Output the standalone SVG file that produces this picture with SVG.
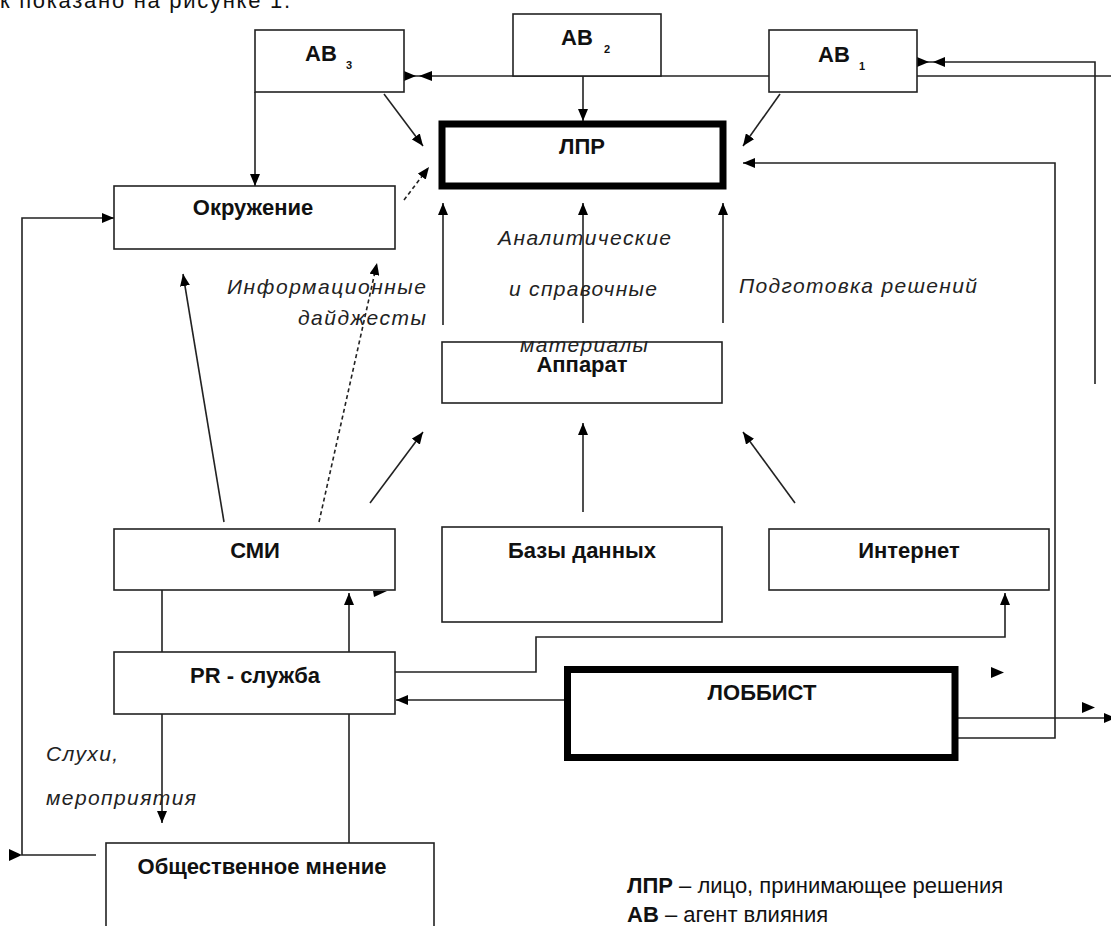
<svg xmlns="http://www.w3.org/2000/svg" width="1111" height="926" viewBox="0 0 1111 926">
<defs>
<style>
.box{fill:#fff;stroke:#222;stroke-width:1.6}
.thick{fill:#fff;stroke:#000;stroke-width:7}
.ln{fill:none;stroke:#222;stroke-width:1.6}
.dash{fill:none;stroke:#222;stroke-width:1.6;stroke-dasharray:4 3}
.tri{fill:#000}
.b{font-family:"Liberation Sans",Arial,sans-serif;font-weight:bold;font-size:22px;fill:#111}
.sub{font-family:"Liberation Sans",Arial,sans-serif;font-weight:bold;font-size:11px;fill:#111}
.i{font-family:"Liberation Sans",Arial,sans-serif;font-style:italic;font-size:21px;fill:#222}
.r{font-family:"Liberation Sans",Arial,sans-serif;font-size:22px;fill:#111}
</style>
<marker id="ah" viewBox="0 0 12 10" refX="12" refY="5" markerWidth="12" markerHeight="10" orient="auto" markerUnits="userSpaceOnUse"><path d="M0,0 L12,5 L0,10 z" fill="#000"/></marker>
</defs>
<rect width="1111" height="926" fill="#fff"/>
<text class="r" x="0" y="8" font-size="27" textLength="290" lengthAdjust="spacing">к показано на рисунке 1.</text>

<g id="connectors">
<path class="ln" d="M583,76 V121" marker-end="url(#ah)"/>
<path class="ln" d="M769,76 H404"/>
<polygon class="tri" points="404,71 416,76 404,81"/>
<polygon class="tri" points="419,76 432,71 432,81"/>
<path class="ln" d="M917,76 H1111"/>
<path class="ln" d="M1095,384 V62 H917"/>
<polygon class="tri" points="917,57 929,62 917,67"/>
<polygon class="tri" points="933,62 945,57 945,67"/>
<path class="ln" d="M255,92 V186" marker-end="url(#ah)"/>
<path class="ln" d="M384,94 L423,146" marker-end="url(#ah)"/>
<path class="ln" d="M780,94 L743,146" marker-end="url(#ah)"/>
<path class="ln" d="M958,738 H1055 V163 H743" marker-end="url(#ah)"/>
<path class="ln" d="M958,718 H1116" marker-end="url(#ah)"/>
<polygon class="tri" points="991,667 1004,672.5 991,678"/>
<polygon class="tri" points="1082,702 1095,707.5 1082,713"/>
<path class="dash" d="M404,200 L429,167" marker-end="url(#ah)"/>
<path class="ln" d="M443,325 V203" marker-end="url(#ah)"/>
<path class="ln" d="M583,323 V203" marker-end="url(#ah)"/>
<path class="ln" d="M723,323 V203" marker-end="url(#ah)"/>
<path class="ln" d="M224,522 L183,274" marker-end="url(#ah)"/>
<path class="dash" d="M319,522 L377,263" marker-end="url(#ah)"/>
<path class="ln" d="M370,503 L423,432" marker-end="url(#ah)"/>
<path class="ln" d="M583,512 V423" marker-end="url(#ah)"/>
<path class="ln" d="M795,503 L743,432" marker-end="url(#ah)"/>
<path class="ln" d="M162,590 V652"/>
<path class="ln" d="M349,652 V593" marker-end="url(#ah)"/>
<polygon class="tri" points="373,591 387,591 374,597"/>
<path class="ln" d="M395,672 H536 V637 H1005 V593" marker-end="url(#ah)"/>
<path class="ln" d="M564,700 H396" marker-end="url(#ah)"/>
<path class="ln" d="M162,714 V823" marker-end="url(#ah)"/>
<path class="ln" d="M349,843 V714"/>
<path class="ln" d="M96,855 H22 V218 H114" marker-end="url(#ah)"/>
<polygon class="tri" points="9,849 22,855 9,861"/>
</g>

<g id="ab3"><rect class="box" x="255" y="30" width="149" height="62"/><text class="b" x="305" y="61">АВ</text><text class="sub" x="346" y="69">3</text></g>
<g id="ab2"><rect class="box" x="513" y="14" width="148" height="62"/><text class="b" x="561" y="45">АВ</text><text class="sub" x="604" y="53">2</text></g>
<g id="ab1"><rect class="box" x="769" y="30" width="148" height="62"/><text class="b" x="818" y="62">АВ</text><text class="sub" x="859" y="70">1</text></g>
<g id="lpr"><rect class="thick" x="442" y="124" width="281" height="62" stroke-width="6"/><text class="b" x="582" y="154" text-anchor="middle">ЛПР</text></g>
<g id="okr"><rect class="box" x="114" y="186" width="281" height="63"/><text class="b" x="253" y="215" text-anchor="middle">Окружение</text></g>
<g id="apparat"><rect class="box" x="442" y="342" width="280" height="61"/><text class="b" x="582" y="372" text-anchor="middle">Аппарат</text></g>
<g id="smi"><rect class="box" x="114" y="529" width="281" height="61"/><text class="b" x="255" y="558" text-anchor="middle">СМИ</text></g>
<g id="bazy"><rect class="box" x="442" y="527" width="280" height="95"/><text class="b" x="582" y="558" text-anchor="middle">Базы данных</text></g>
<g id="internet"><rect class="box" x="769" y="529" width="280" height="61"/><text class="b" x="909" y="558" text-anchor="middle">Интернет</text></g>
<g id="pr"><rect class="box" x="114" y="652" width="281" height="62"/><text class="b" x="255" y="683" text-anchor="middle">PR - служба</text></g>
<g id="lobbist"><rect class="thick" x="567.5" y="669.5" width="387.5" height="88"/><text class="b" x="762" y="700" text-anchor="middle">ЛОББИСТ</text></g>
<g id="mnenie"><rect class="box" x="106" y="843" width="328" height="100"/><text class="b" x="262" y="874" text-anchor="middle">Общественное мнение</text></g>

<g id="labels">
<text class="i" x="426" y="294" text-anchor="end" textLength="199" lengthAdjust="spacing">Информационные</text>
<text class="i" x="426" y="325" text-anchor="end" textLength="128" lengthAdjust="spacing">дайджесты</text>
<text class="i" x="498" y="245" textLength="173" lengthAdjust="spacing">Аналитические</text>
<text class="i" x="509" y="296" textLength="148" lengthAdjust="spacing">и справочные</text>
<text class="i" x="520" y="352" textLength="128" lengthAdjust="spacing">материалы</text>
<text class="i" x="739" y="293" textLength="238" lengthAdjust="spacing">Подготовка решений</text>
<text class="i" x="46" y="761" textLength="72" lengthAdjust="spacing">Слухи,</text>
<text class="i" x="46" y="805" textLength="150" lengthAdjust="spacing">мероприятия</text>
</g>

<g id="legend">
<text class="r" x="627" y="893"><tspan font-weight="bold">ЛПР</tspan> – лицо, принимающее решения</text>
<text class="r" x="627" y="922"><tspan font-weight="bold">АВ</tspan> – агент влияния</text>
</g>
</svg>
